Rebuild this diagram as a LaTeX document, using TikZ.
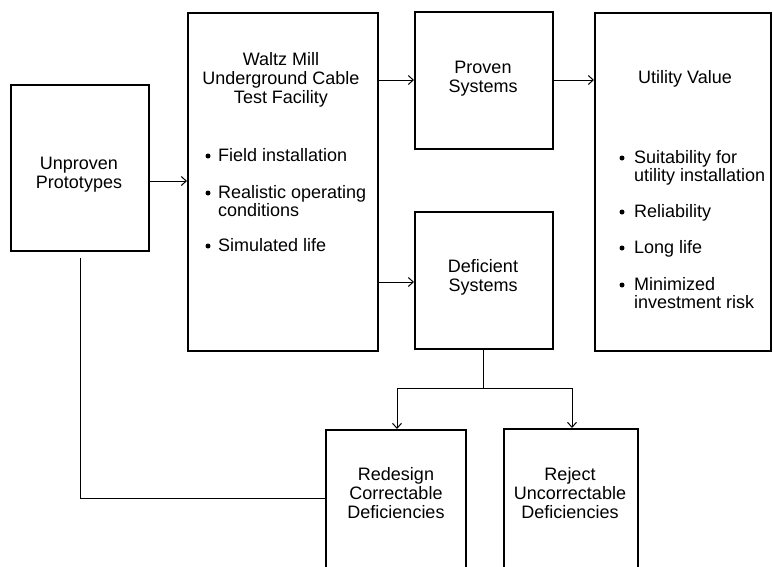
\documentclass[tikz,border=0pt]{standalone}
\usepackage{fontspec}
\setmainfont{Liberation Sans}
\usetikzlibrary{arrows.meta}
\tikzset{
  box/.style={draw, line width=2.4pt, rectangle, anchor=north west, inner sep=0pt},
  lbl/.style={align=center, font=\fontsize{18}{19}\selectfont, inner sep=0pt},
  blt/.style={font=\fontsize{18}{19}\selectfont, inner sep=0pt, anchor=base west},
  dot/.style={circle, fill, inner sep=0pt, minimum size=5pt},
  arr/.style={line width=0.9pt, -{Straight Barb[length=5pt,width=9pt,line width=1pt]}},
  ln/.style={line width=0.9pt}
}
\begin{document}
\begin{tikzpicture}[x=1pt,y=-1pt]
\useasboundingbox (0,0) rectangle (773,566);
% boxes
\node[box, minimum width=138pt, minimum height=166pt] (unp) at (10,84) {};
\node[box, minimum width=190pt, minimum height=338pt] (waltz) at (187,12) {};
\node[box, minimum width=138pt, minimum height=137pt] (prov) at (414,11) {};
\node[box, minimum width=138pt, minimum height=137pt] (def) at (414,211) {};
\node[box, minimum width=176pt, minimum height=338pt] (util) at (594,12) {};
\node[box, minimum width=140pt, minimum height=140pt] (redes) at (325,429) {};
\node[box, minimum width=134pt, minimum height=140pt] (rej) at (503,428) {};
% texts
\node[lbl] (tunp) at (79,175) {Unproven\\Prototypes};
\node[lbl] (twaltz) at (281,80) {Waltz Mill\\Underground Cable\\Test Facility};
\node[lbl] (tprov) at (483,79) {Proven\\Systems};
\node[lbl] (tdef) at (483,277) {Deficient\\Systems};
\node[lbl] (tutil) at (685,79) {Utility Value};
\node[lbl] (tredes) at (396,493) {Redesign\\Correctable\\Deficiencies};
\node[lbl] (trej) at (570,493) {Reject\\Uncorrectable\\Deficiencies};
% bullets in Waltz
\node[dot] (d1) at (208,156) {};
\node[blt] (b1) at (218,161) {Field installation};
\node[dot] (d2) at (208,193) {};
\node[blt] (b2) at (218,198) {Realistic operating};
\node[blt] (b2b) at (218,216) {conditions};
\node[dot] (d3) at (208,246) {};
\node[blt] (b3) at (218,251) {Simulated life};
% bullets in Utility
\node[dot] (u1) at (622,158) {};
\node[blt] (ub1) at (634,163) {Suitability for};
\node[blt] (ub1b) at (634,181) {utility installation};
\node[dot] (u2) at (622,212) {};
\node[blt] (ub2) at (634,217) {Reliability};
\node[dot] (u3) at (622,248) {};
\node[blt] (ub3) at (634,253) {Long life};
\node[dot] (u4) at (622,285) {};
\node[blt] (ub4) at (634,290) {Minimized};
\node[blt] (ub4b) at (634,308) {investment risk};
% helper coordinates
\coordinate (y181) at (0,181);
\coordinate (y80) at (0,80);
\coordinate (y282) at (0,282);
\coordinate (split) at (483,388);
\coordinate (lft) at (397,388);
\coordinate (rgt) at (572,388);
\coordinate (fbtop) at (80,258);
\coordinate (fbcorner) at (80,498);
% connectors
\draw[arr] (unp.east |- y181) -- (waltz.west |- y181);
\draw[arr] (waltz.east |- y80) -- (prov.west |- y80);
\draw[arr] (prov.east |- y80) -- (util.west |- y80);
\draw[arr] (waltz.east |- y282) -- (def.west |- y282);
\draw[ln] (def.south -| split) -- (split);
\draw[ln] (lft) -- (rgt);
\draw[arr] (lft) -- (redes.north -| lft);
\draw[arr] (rgt) -- (rej.north -| rgt);
\draw[ln] (fbtop) -- (fbcorner) -- (redes.west |- fbcorner);
\end{tikzpicture}
\end{document}
